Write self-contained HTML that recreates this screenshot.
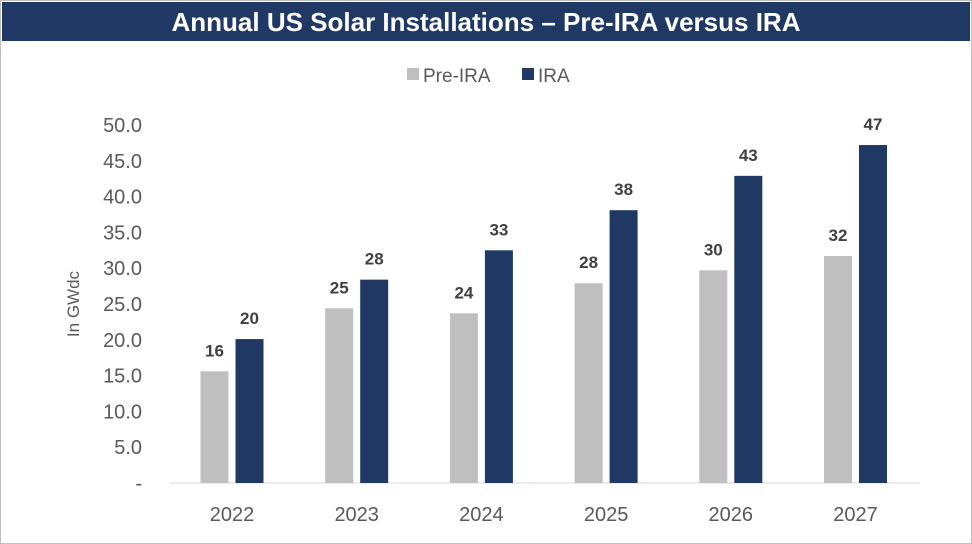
<!DOCTYPE html>
<html><head><meta charset="utf-8"><style>
body{margin:0;background:#fff;}
svg{display:block;font-family:"Liberation Sans",sans-serif;}
</style></head><body>
<svg width="972" height="544" viewBox="0 0 972 544">
<rect x="0.5" y="0.5" width="971" height="543" fill="#fff" stroke="#bfbfbf"/>
<rect x="2" y="2" width="968" height="39" fill="#1f3864"/>
<text x="486" y="31" text-anchor="middle" fill="#fff" font-size="26" font-weight="bold">Annual US Solar Installations – Pre-IRA versus IRA</text>
<g>
<rect x="407" y="68" width="12" height="12" fill="#bfbfbf"/>
<text x="423" y="82" font-size="19" fill="#595959">Pre-IRA</text>
<rect x="522" y="68" width="12" height="12" fill="#1f3864"/>
<text x="538" y="82" font-size="19" fill="#595959">IRA</text>
</g>
<text transform="translate(79,304) rotate(-90)" text-anchor="middle" font-size="17" fill="#595959">In GWdc</text>
<g id="yticks"></g>
<line x1="170" y1="483" x2="920" y2="483" stroke="#d9d9d9"/>
<g id="bars"></g>
</svg>
<script>
const categories=["2022","2023","2024","2025","2026","2027"];
const preIRA=[15.6,24.4,23.7,27.9,29.7,31.7];
const ira=[20.1,28.4,32.5,38.1,42.9,47.2];
const preLabels=["16","25","24","28","30","32"];
const iraLabels=["20","28","33","38","43","47"];
const yTicks=[0,5,10,15,20,25,30,35,40,45,50];
const NS="http://www.w3.org/2000/svg";
function y(v){return 483-v*(358/50);}
function xc(i){return 232+i*124.7;}
function mk(tag,attrs,parent){const e=document.createElementNS(NS,tag);for(const k in attrs)e.setAttribute(k,attrs[k]);parent.appendChild(e);return e;}
const yt=document.getElementById('yticks');
yTicks.forEach(v=>{
  const t=mk('text',{x:142,y:y(v)+7,'text-anchor':'end','font-size':20,fill:'#595959'},yt);
  t.textContent=v===0?'-':v.toFixed(1);
  
  
});
const bg=document.getElementById('bars');
const w=28;
categories.forEach((c,i)=>{
  const cx=xc(i);
  const r1=mk('rect',{x:cx-w-3.5,y:y(preIRA[i]),width:w,height:483-y(preIRA[i]),fill:'#bfbfbf'},bg);
  
  
  const r2=mk('rect',{x:cx+3.5,y:y(ira[i]),width:w,height:483-y(ira[i]),fill:'#1f3864'},bg);
  
  
  const l1=mk('text',{x:cx-3.5-w/2,y:y(preIRA[i])-15,'text-anchor':'middle','font-size':17,'font-weight':'bold',fill:'#404040'},bg);
  l1.textContent=preLabels[i];
  
  
  const l2=mk('text',{x:cx+3.5+w/2,y:y(ira[i])-15,'text-anchor':'middle','font-size':17,'font-weight':'bold',fill:'#404040'},bg);
  l2.textContent=iraLabels[i];
  
  
  const xl=mk('text',{x:cx,y:521,'text-anchor':'middle','font-size':20,fill:'#595959'},bg);
  xl.textContent=c;
  
  
});
</script>
</body></html>
